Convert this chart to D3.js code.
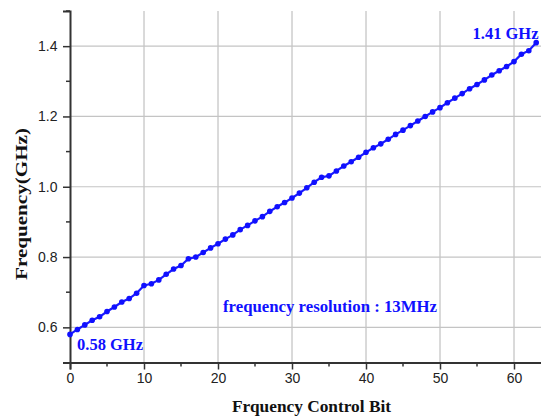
<!DOCTYPE html>
<html lang="en">
<head>
  <meta charset="UTF-8">
  <title>Frequency vs Control Bit</title>
  <script src="https://d3js.org/d3.v7.min.js"></script>
  <style>
    body {
      margin: 0;
      background-color: #fff;
    }
    svg {
      display: block;
    }
    .tick-label {
      font-family: Arial, "Liberation Sans", sans-serif;
      font-size: 14px;
      fill: #222;
    }
    .axis-title {
      font-family: "Times New Roman", "Liberation Serif", serif;
      font-weight: bold;
      font-size: 17px;
      fill: #111;
    }
    .note {
      font-family: "Times New Roman", "Liberation Serif", serif;
      font-weight: bold;
      font-size: 17px;
      fill: #1010ff;
    }
  </style>
</head>
<body>

<svg width="541" height="419"></svg>

<script>
  // control bit values 0..63
  const bits = d3.range(64);

  const freqs = [
    0.580, 0.594, 0.607, 0.620, 0.630, 0.645, 0.658, 0.672, 0.682, 0.697,
    0.719, 0.724, 0.735, 0.751, 0.766, 0.776, 0.795, 0.800, 0.813, 0.826,
    0.838, 0.851, 0.863, 0.878, 0.890, 0.903, 0.915, 0.930, 0.943, 0.955,
    0.968, 0.982, 0.997, 1.013, 1.027, 1.031, 1.045, 1.059, 1.071, 1.084,
    1.098, 1.111, 1.122, 1.135, 1.149, 1.161, 1.174, 1.187, 1.200, 1.213,
    1.225, 1.239, 1.252, 1.265, 1.279, 1.291, 1.304, 1.318, 1.330, 1.342,
    1.356, 1.377, 1.387, 1.410
  ];

  const xTicks = [0, 10, 20, 30, 40, 50, 60];
  const xMinor = [5, 15, 25, 35, 45, 55];
  const yTicks = [0.6, 0.8, 1.0, 1.2, 1.4];
  const yMinor = [0.7, 0.9, 1.1, 1.3, 1.5];

  const notes = [
    { text: "0.58 GHz", x: 77, y: 350, w: 66 },
    { text: "1.41 GHz", x: 472.5, y: 38.5, w: 66 },
    { text: "frequency resolution : 13MHz", x: 223, y: 312, w: 214 }
  ];

  const svg = d3.select("svg");
  const plotLeft = 70, plotTop = 11, plotBottom = 362.5;

  const x = d3.scaleLinear().domain([0, 64]).range([plotLeft, plotLeft + 7.4 * 64]);
  const y = d3.scaleLinear().domain([0.5, 1.5]).range([plotBottom, plotTop]);

  // grid
  svg.append("g").selectAll("line")
    .data(xTicks.filter(d => d > 0))
    .enter().append("line")
    .attr("x1", d => x(d)).attr("x2", d => x(d))
    .attr("y1", plotTop).attr("y2", plotBottom)
    .attr("stroke", "#b4b4b4").attr("stroke-width", 1);

  svg.append("g").selectAll("line")
    .data(yTicks)
    .enter().append("line")
    .attr("x1", plotLeft).attr("x2", 541)
    .attr("y1", d => y(d)).attr("y2", d => y(d))
    .attr("stroke", "#c4c4c4").attr("stroke-width", 1.2);

  // x axis
  const xAxis = svg.append("g").attr("transform", `translate(0,${plotBottom})`);
  xAxis.call(d3.axisBottom(x).tickValues(xTicks).tickSize(7).tickFormat(d3.format("d")));
  xAxis.select(".domain").attr("stroke", "#333").attr("stroke-width", 2);
  xAxis.selectAll(".tick line").attr("stroke", "#333").attr("stroke-width", 1.5);
  xAxis.selectAll(".tick text").attr("class", "tick-label").attr("y", 11).attr("dy", "0.71em");
  xAxis.append("g").selectAll("line")
    .data(xMinor)
    .enter().append("line")
    .attr("x1", d => x(d)).attr("x2", d => x(d))
    .attr("y1", 0).attr("y2", 4)
    .attr("stroke", "#333").attr("stroke-width", 1.5);

  // y axis
  const yAxis = svg.append("g").attr("transform", `translate(${plotLeft},0)`);
  yAxis.call(d3.axisLeft(y).tickValues(yTicks).tickSize(7).tickFormat(d3.format(".1f")));
  yAxis.select(".domain").attr("stroke", "#333").attr("stroke-width", 2);
  yAxis.selectAll(".tick line").attr("stroke", "#333").attr("stroke-width", 1.5);
  yAxis.selectAll(".tick text").attr("class", "tick-label").attr("x", -12.5);
  yAxis.append("g").selectAll("line")
    .data(yMinor)
    .enter().append("line")
    .attr("x1", 0).attr("x2", -4)
    .attr("y1", d => y(d)).attr("y2", d => y(d))
    .attr("stroke", "#333").attr("stroke-width", 1.5);

  // data line + markers
  const points = bits.map((b, i) => [b, freqs[i]]);
  const line = d3.line().x(d => x(d[0])).y(d => y(d[1]));

  svg.append("path")
    .datum(points)
    .attr("d", line)
    .attr("fill", "none")
    .attr("stroke", "#1a1aff")
    .attr("stroke-width", 2.2);

  svg.append("g").selectAll("circle")
    .data(points)
    .enter().append("circle")
    .attr("cx", d => x(d[0]))
    .attr("cy", d => y(d[1]))
    .attr("r", 2.8)
    .attr("fill", "#1010ff");

  // titles
  svg.append("text")
    .attr("class", "axis-title")
    .attr("x", 232).attr("y", 412)
    .attr("textLength", 159)
    .attr("lengthAdjust", "spacingAndGlyphs")
    .text("Frquency Control Bit");

  svg.append("text")
    .attr("class", "axis-title")
    .attr("transform", "translate(27,280) rotate(-90)")
    .attr("textLength", 152)
    .attr("lengthAdjust", "spacingAndGlyphs")
    .text("Frequency(GHz)");

  svg.append("g").selectAll("text")
    .data(notes)
    .enter().append("text")
    .attr("class", "note")
    .attr("x", d => d.x).attr("y", d => d.y)
    .attr("textLength", d => d.w)
    .attr("lengthAdjust", "spacingAndGlyphs")
    .text(d => d.text);
</script>

</body>
</html>
